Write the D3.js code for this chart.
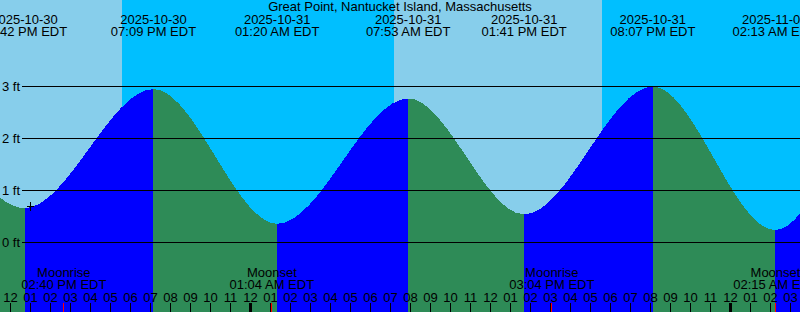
<!DOCTYPE html>
<html>
<head>
<meta charset="utf-8">
<script src="https://cdn.jsdelivr.net/npm/d3@7"></script>
<style>
  html, body { margin: 0; padding: 0; background: #fff; }
  svg { display: block; }
  text { font-family: "Liberation Sans", Arial, sans-serif; font-size: 13px; fill: #000; }
</style>
</head>
<body>
<svg id="chart" width="800" height="312"></svg>
<script>
// ---- data (times are local EDT wall-clock) ----
const stationName = "Great Point, Nantucket Island, Massachusetts";
const tideTimes   = ["2025-10-30 00:30", "2025-10-30 06:40", "2025-10-30 12:42", "2025-10-30 19:09",
                     "2025-10-31 01:20", "2025-10-31 07:53", "2025-10-31 13:41", "2025-10-31 20:07",
                     "2025-11-01 02:13", "2025-11-01 08:20", "2025-11-01 14:30"];
const tideHeights = [0.45, 2.55, 0.66, 2.95, 0.36, 2.77, 0.54, 3.0, 0.24, 3.1, 0.5];
const moonTimes   = ["2025-10-30 14:40", "2025-10-31 01:04", "2025-10-31 15:04", "2025-11-01 02:15"];
const moonEvents  = ["Moonrise", "Moonset", "Moonrise", "Moonset"];
const sunTimes    = ["2025-10-30 17:35", "2025-10-31 07:11", "2025-10-31 17:34"];
const sunEvents   = ["Sunset", "Sunrise", "Sunset"];
const heightTicks = [0, 1, 2, 3];
const heightUnit  = "ft";
const zoneLabel   = "EDT";
const nowTime     = "2025-10-30 13:00";
const nowHeight   = 0.69;
const viewStart   = "2025-10-30 12:00";
const viewEnd     = "2025-11-01 04:00";

// ---- setup ----
const W = 800, H = 312;
const parseT = d3.utcParse("%Y-%m-%d %H:%M");
const fmtDate = d3.utcFormat("%Y-%m-%d");
const fmtTime = d3.utcFormat("%I:%M %p");
const fmtHour = d3.utcFormat("%I");

const x = d3.scaleUtc().domain([parseT(viewStart), parseT(viewEnd)]).range([10.5, 810.5]);
const y = d3.scaleLinear().domain([0, 3]).range([242.5, 86.5]);

const svg = d3.select("#chart");
const colors = { day: "#87ceeb", night: "#00bfff", rising: "#0000ff", falling: "#2e8b57" };

// sky background
svg.append("rect").attr("x", 0).attr("y", 0).attr("width", W).attr("height", H).attr("fill", colors.day);
const sun = sunTimes.map((t, i) => ({ t: parseT(t), kind: sunEvents[i] }));
sun.forEach((s, i) => {
  if (s.kind !== "Sunset") return;
  const next = sun.slice(i + 1).find(d => d.kind === "Sunrise");
  const x0 = Math.round(x(s.t));
  const x1 = next ? Math.round(x(next.t)) : W;
  svg.append("rect").attr("x", x0).attr("y", 0).attr("width", x1 - x0).attr("height", H)
    .attr("fill", colors.night).attr("shape-rendering", "crispEdges");
});

// tide curve fill
const tides = tideTimes.map((t, i) => ({ t: parseT(t), h: tideHeights[i] }));
const area = d3.area().x(d => x(d.t)).y0(H).y1(d => y(d.h)).curve(d3.curveMonotoneX);
const defs = svg.append("defs");
for (let i = 0; i < tides.length - 1; i++) {
  const a = tides[i], b = tides[i + 1];
  const x0 = Math.round(x(a.t)), x1 = Math.round(x(b.t));
  defs.append("clipPath").attr("id", "seg" + i)
    .append("rect").attr("x", x0).attr("y", 0).attr("width", x1 - x0).attr("height", H);
  svg.append("path").datum(tides).attr("d", area)
    .attr("clip-path", "url(#seg" + i + ")")
    .attr("fill", b.h > a.h ? colors.rising : colors.falling)
    .attr("shape-rendering", "crispEdges");
}

// height grid lines + labels
heightTicks.forEach(v => {
  svg.append("line").attr("x1", 22).attr("x2", W).attr("y1", y(v)).attr("y2", y(v))
    .attr("stroke", "#000").attr("stroke-width", 1);
  svg.append("text").attr("x", 2).attr("y", y(v) + 4).text(v + " " + heightUnit);
});

// hour ticks + labels
const hours = x.ticks(d3.utcHour.every(1));
hours.forEach(d => {
  const midnight = d.getUTCHours() === 0;
  svg.append("line").attr("x1", x(d)).attr("x2", x(d)).attr("y1", 303).attr("y2", H)
    .attr("stroke", "#000").attr("stroke-width", midnight ? 3 : 1);
  svg.append("text").attr("x", x(d)).attr("y", 301.5).attr("text-anchor", "middle").text(fmtHour(d));
});

// moon events
moonTimes.forEach((t, i) => {
  const d = parseT(t);
  const xm = Math.floor(x(d)) + 0.5;
  svg.append("line").attr("x1", xm).attr("x2", xm).attr("y1", 303).attr("y2", H)
    .attr("stroke", "#ff0000").attr("stroke-width", 1);
  svg.append("text").attr("x", x(d)).attr("y", 277).attr("text-anchor", "middle").text(moonEvents[i]);
  svg.append("text").attr("x", x(d)).attr("y", 289).attr("text-anchor", "middle").text(fmtTime(d) + " " + zoneLabel);
});

// header: title + tide event times
svg.append("text").attr("x", W / 2).attr("y", 11).attr("text-anchor", "middle").text(stationName);
tides.forEach(d => {
  const xt = x(d.t);
  if (xt < -60 || xt > W + 60) return;
  svg.append("text").attr("x", xt).attr("y", 24).attr("text-anchor", "middle").text(fmtDate(d.t));
  svg.append("text").attr("x", xt).attr("y", 36).attr("text-anchor", "middle").text(fmtTime(d.t) + " " + zoneLabel);
});

// current-time marker
const nx = Math.floor(x(parseT(nowTime))) + 0.5, ny = Math.floor(y(nowHeight)) + 0.5;
svg.append("line").attr("x1", nx - 3.5).attr("x2", nx + 3.5).attr("y1", ny).attr("y2", ny).attr("stroke", "#000");
svg.append("line").attr("x1", nx).attr("x2", nx).attr("y1", ny - 4.5).attr("y2", ny + 4.5).attr("stroke", "#000");
</script>
</body>
</html>
